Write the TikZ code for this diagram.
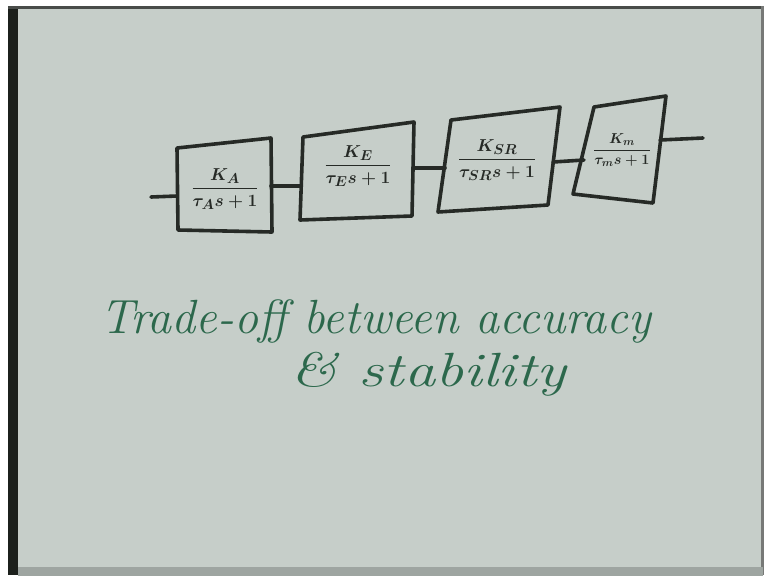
\documentclass[tikz,border=0pt]{standalone}
\usepackage{amsmath}
\definecolor{board}{RGB}{198,206,201}
\definecolor{ink}{RGB}{38,42,38}
\definecolor{pen}{RGB}{44,104,76}
\definecolor{frame}{RGB}{28,32,28}
\tikzset{
  blockbox/.style={draw=ink, line width=3.6pt, line join=round, line cap=round},
  wire/.style={draw=ink, line width=3.6pt, line cap=round},
  tf/.style={text=ink, inner sep=0pt, font=\fontsize{19}{22}\selectfont\boldmath},
  hand/.style={text=pen, inner sep=0pt, font=\fontsize{48}{54}\selectfont\itshape}
}
\begin{document}
\begin{tikzpicture}[x=1pt,y=-1pt]
\useasboundingbox (0,0) rectangle (766,579);
% photo frame
\fill[white] (0,0) rectangle (766,579);
\fill[board] (8,7) rectangle (763,575);
\fill[frame] (8,7) rectangle (18,575);
\fill[frame!80] (8,6) rectangle (763,9);
\fill[frame!60] (761,6) rectangle (764,575);
\fill[board!80!black] (18,567) rectangle (763,576);

% block corners
\coordinate (b1tl) at (177,148); \coordinate (b1tr) at (271,138);
\coordinate (b1br) at (272,232); \coordinate (b1bl) at (178,230);
\coordinate (b2tl) at (303,137); \coordinate (b2tr) at (414,122);
\coordinate (b2br) at (412,216); \coordinate (b2bl) at (300,220);
\coordinate (b3tl) at (451,120); \coordinate (b3tr) at (560,107);
\coordinate (b3br) at (548,205); \coordinate (b3bl) at (438,212);
\coordinate (b4tl) at (594,107); \coordinate (b4tr) at (666,96);
\coordinate (b4br) at (653,203); \coordinate (b4bl) at (573,194);

\draw[blockbox] (b1tl) -- (b1tr) -- (b1br) -- (b1bl) -- cycle;
\draw[blockbox] (b2tl) -- (b2tr) -- (b2br) -- (b2bl) -- cycle;
\draw[blockbox] (b3tl) -- (b3tr) -- (b3br) -- (b3bl) -- cycle;
\draw[blockbox] (b4tl) -- (b4tr) -- (b4br) -- (b4bl) -- cycle;

% transfer functions
\node[tf] (f1) at (225,189) {$\dfrac{K_A}{\tau_A s+1}$};
\node[tf] (f2) at (358,166) {$\dfrac{K_E}{\tau_E s+1}$};
\node[tf] (f3) at (497,160) {$\dfrac{K_{SR}}{\tau_{SR} s+1}$};
\node[tf, font=\fontsize{15}{18}\selectfont\boldmath] (f4) at (622,150) {$\dfrac{K_m}{\tau_m s+1}$};

% connection points
\coordinate (in) at (151,197);
\coordinate (b1w) at (177,196);
\coordinate (b1e) at (271,186);
\coordinate (b2w) at (301,186);
\coordinate (b2e) at (413,168);
\coordinate (b3w) at (445,168);
\coordinate (b3e) at (553,162);
\coordinate (b4w) at (584,160);
\coordinate (b4e) at (660,140);
\coordinate (out) at (703,138);

\draw[wire] (in) -- (b1w);
\draw[wire] (b1e) -- (b2w);
\draw[wire] (b2e) -- (b3w);
\draw[wire] (b3e) -- (b4w);
\draw[wire] (b4e) -- (out);

% handwritten note
\node[hand, anchor=base west] (t1) at (100,333) {Trade-off between accuracy};
\node[hand, anchor=base west, xscale=1.3] (t2) at (290,386) {\& stability};
\end{tikzpicture}
\end{document}
